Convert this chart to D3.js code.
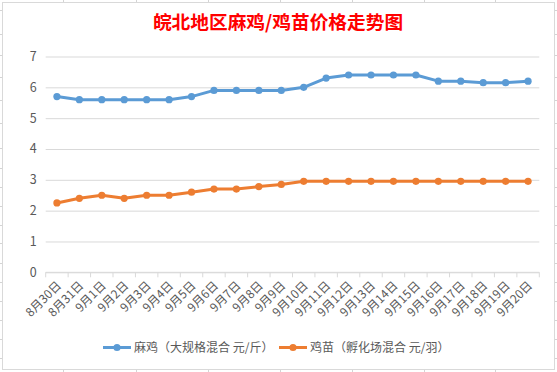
<!DOCTYPE html>
<html lang="zh">
<head>
<meta charset="UTF-8">
<title>皖北地区麻鸡/鸡苗价格走势图</title>
<script src="https://d3js.org/d3.v7.min.js"></script>
<style>
    body { margin: 0; background: #fff; }
    text { font-family: "Noto Sans CJK SC", "Noto Sans", sans-serif; fill: #595959; }
    .grid line { stroke: #d9d9d9; stroke-width: 1px; }
    .title { font-size: 18.7px; font-weight: bold; fill: #ff0000; }
</style>
</head>
<body>
<svg width="557" height="372"></svg>
<script>
    // data
    const dates = ["8月30日", "8月31日", "9月1日", "9月2日", "9月3日", "9月4日", "9月5日", "9月6日",
        "9月7日", "9月8日", "9月9日", "9月10日", "9月11日", "9月12日", "9月13日", "9月14日",
        "9月15日", "9月16日", "9月17日", "9月18日", "9月19日", "9月20日"];
    const maji = [5.7, 5.6, 5.6, 5.6, 5.6, 5.6, 5.7, 5.9, 5.9, 5.9, 5.9, 6.0, 6.3, 6.4, 6.4, 6.4,
        6.4, 6.2, 6.2, 6.15, 6.15, 6.2];
    const jimiao = [2.25, 2.4, 2.5, 2.4, 2.5, 2.5, 2.6, 2.7, 2.7, 2.78, 2.85, 2.95, 2.95, 2.95, 2.95,
        2.95, 2.95, 2.95, 2.95, 2.95, 2.95, 2.95];
    const yTicks = [0, 1, 2, 3, 4, 5, 6, 7];
    const seriesNames = ["麻鸡（大规格混合 元/斤）", "鸡苗（孵化场混合 元/羽）"];
    const colors = ["#5b9bd5", "#ed7d31"];

    // spreadsheet cell borders peeking around the chart
    const sheetRows = [10, 34, 55, 77, 100, 123, 148, 168, 187, 206, 225, 243, 263, 282, 301, 320, 339, 358];
    const sheetCols = [63, 136, 208, 280, 352, 424, 495];

    const svg = d3.select("svg");

    const sheet = svg.append("g").attr("stroke", "#d4d4d4");
    sheetRows.forEach(r => {
        sheet.append("line").attr("x1", 0).attr("x2", 2).attr("y1", r + 0.5).attr("y2", r + 0.5);
        sheet.append("line").attr("x1", 555).attr("x2", 557).attr("y1", r + 0.5).attr("y2", r + 0.5);
    });
    sheetCols.forEach(c => {
        sheet.append("line").attr("x1", c + 0.5).attr("x2", c + 0.5).attr("y1", 0).attr("y2", 2);
        sheet.append("line").attr("x1", c + 0.5).attr("x2", c + 0.5).attr("y1", 370).attr("y2", 372);
    });

    // chart frame
    svg.append("rect")
        .attr("x", 2.5).attr("y", 2.5)
        .attr("width", 552).attr("height", 367)
        .attr("fill", "#fff").attr("stroke", "#d9d9d9");

    svg.append("text")
        .attr("class", "title")
        .attr("x", 278).attr("y", 29)
        .attr("text-anchor", "middle")
        .text("皖北地区麻鸡/鸡苗价格走势图");

    const x = d3.scaleBand().domain(dates).range([45.7, 539.3]);
    const y = d3.scaleLinear().domain([0, 7]).range([272.3, 56.5]);
    const left = x.range()[0], right = x.range()[1];

    // y gridlines + labels
    const yAxis = svg.append("g")
        .attr("class", "grid")
        .attr("transform", `translate(${left},0)`)
        .call(d3.axisLeft(y).tickValues(yTicks).tickSize(-(right - left)).tickPadding(9).tickFormat(d3.format("d")));
    yAxis.select(".domain").remove();
    yAxis.selectAll("text").style("font-size", "12.5px").attr("fill", "#595959");

    // x axis line, boundary ticks, labels
    const xg = svg.append("g").attr("transform", `translate(0,${y(0)})`);
    xg.append("line").attr("x1", left).attr("x2", right).attr("stroke", "#d9d9d9");
    const bounds = dates.map(d => x(d)).concat([right]);
    xg.selectAll(".bt").data(bounds).enter().append("line")
        .attr("x1", d => d).attr("x2", d => d)
        .attr("y1", 0).attr("y2", 5)
        .attr("stroke", "#d9d9d9");
    xg.selectAll(".xl").data(dates).enter().append("text")
        .attr("text-anchor", "end")
        .style("font-size", "12px")
        .attr("transform", d => `translate(${x(d) + x.bandwidth() / 2 + 5},${14}) rotate(-45)`)
        .text(d => d);

    // lines
    const series = [maji, jimiao];
    const line = d3.line()
        .x((d, i) => x(dates[i]) + x.bandwidth() / 2)
        .y(d => y(d));

    series.forEach((s, k) => {
        svg.append("path")
            .datum(s)
            .attr("fill", "none")
            .attr("stroke", colors[k])
            .attr("stroke-width", 3)
            .attr("stroke-linejoin", "round")
            .attr("d", line);
        svg.append("g").selectAll("circle")
            .data(s).enter().append("circle")
            .attr("cx", (d, i) => x(dates[i]) + x.bandwidth() / 2)
            .attr("cy", d => y(d))
            .attr("r", 3.6)
            .attr("fill", colors[k]);
    });

    // legend
    const legendX = [103, 279];
    seriesNames.forEach((name, k) => {
        const g = svg.append("g").attr("transform", `translate(${legendX[k]},347.5)`);
        g.append("line").attr("x1", 0).attr("x2", 28)
            .attr("stroke", colors[k]).attr("stroke-width", 3);
        g.append("circle").attr("cx", 14).attr("r", 3.6).attr("fill", colors[k]);
        g.append("text").attr("x", 31).attr("dy", "0.35em")
            .style("font-size", "12px")
            .text(name);
    });
</script>
</body>
</html>
